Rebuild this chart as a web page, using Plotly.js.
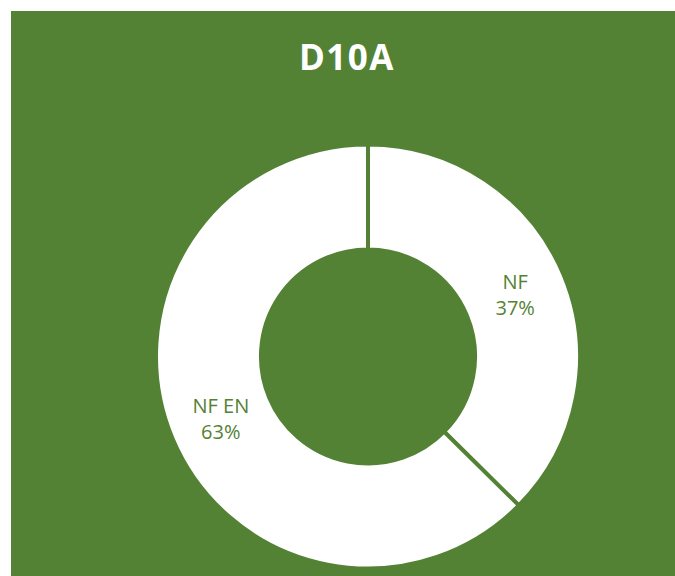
<!DOCTYPE html>
<html>
<head>
<meta charset="utf-8">
<script src="https://cdn.plot.ly/plotly-3.0.1.min.js"></script>
<style>
  html, body { margin: 0; padding: 0; background: #ffffff; width: 675px; height: 576px; overflow: hidden; }
  #chart { position: absolute; left: 11px; top: 11px; width: 664px; height: 565px; }
  #chart .gtitle { letter-spacing: 1.5px; }
</style>
</head>
<body>
<div id="chart"></div>
<script>
const chartTitle = "D10A";
const labels = ["NF", "NF EN"];
const values = [37.4, 62.6];

const green = "#548235";

const data = [{
  type: "pie",
  labels: labels,
  values: values,
  hole: 0.505,
  sort: false,
  direction: "clockwise",
  rotation: 0,
  marker: { colors: ["#ffffff", "#ffffff"], line: { color: green, width: 4 } },
  texttemplate: "%{label}<br>%{percent:.0%}",
  textposition: "inside",
  insidetextorientation: "horizontal",
  textfont: { family: "Open Sans, sans-serif", size: 20, color: green },
  domain: { x: [0.2184, 0.8569], y: [0.0133, 0.7637] },
  showlegend: false,
  hoverinfo: "none"
}];

const layout = {
  width: 664,
  height: 565,
  margin: { l: 0, r: 0, t: 0, b: 0 },
  paper_bgcolor: green,
  plot_bgcolor: green,
  title: {
    text: "<b>" + chartTitle + "</b>",
    font: { family: "Open Sans, sans-serif", size: 35, color: "#ffffff" },
    x: 0.506,
    xanchor: "center",
    y: 1 - 47 / 565,
    yanchor: "middle"
  },
  showlegend: false
};

Plotly.newPlot("chart", data, layout, { displayModeBar: false, staticPlot: true });
</script>
</body>
</html>
